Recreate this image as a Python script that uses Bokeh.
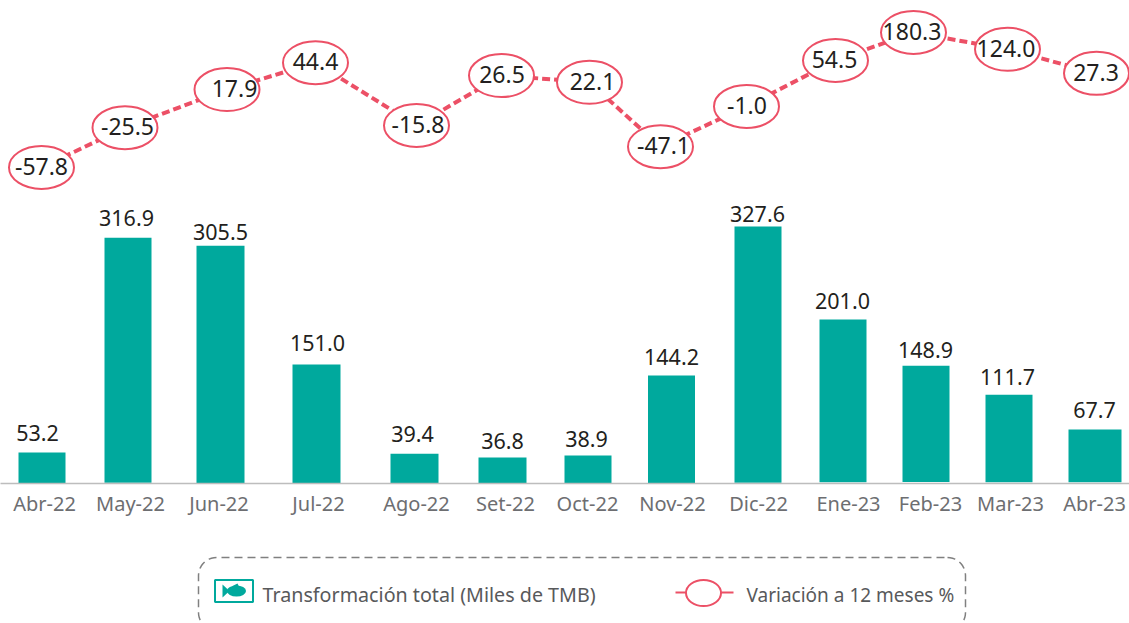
from bokeh.plotting import figure
from bokeh.layouts import column
from bokeh.models import FixedTicker, Range1d
from bokeh.core.properties import value
from bokeh.embed import file_html
from bokeh.resources import INLINE
import numpy as np

months = ["Abr-22","May-22","Jun-22","Jul-22","Ago-22","Set-22","Oct-22","Nov-22","Dic-22","Ene-23","Feb-23","Mar-23","Abr-23"]
tot_labels = ["53.2","316.9","305.5","151.0","39.4","36.8","38.9","144.2","327.6","201.0","148.9","111.7","67.7"]
var_labels = ["-57.8","-25.5","17.9","44.4","-15.8","26.5","22.1","-47.1","-1.0","54.5","180.3","124.0","27.3"]
# bar heights as drawn (thousand TMB)
bar_drawn = [39.5, 313, 303, 151.6, 38, 33, 35.7, 137.6, 327.4, 209, 150, 113, 68.8]
bar_base = [0, 1, 0, 0, 0, 0, 0, 0, 1, 1.5, 2, 1.5, 1.5]
bar_x = [41.5, 127.5, 220, 316, 414, 502, 587.5, 671, 757.5, 842.5, 925.5, 1008.5, 1094.5]
bar_w = [47, 47, 48, 48, 48, 48, 47, 47, 47, 47, 47, 47, 53]
tot_x = [37, 126, 220, 317, 412, 502, 586, 671, 757, 842, 925, 1007, 1094]
tot_gap = [19, 20, 14, 21, 20, 17, 16, 18, 12, 18, 16, 18, 19]
tick_x = [44, 130, 218.5, 318, 416, 505, 587, 672, 758, 848, 930, 1010, 1094]
# line levels as drawn (percent-like)
var_drawn = [-107, -36, 32, 80, -32, 57, 45, -70, 2, 84, 134, 104, 61]
var_x = [41, 124.5, 226.5, 315, 416, 501, 589, 660, 746, 835, 913, 1007, 1096]
var_label_x = [41, 127, 234, 315, 417.5, 501.5, 592, 663, 746.5, 834, 911.5, 1005.5, 1095.5]

FONT = "Noto Sans"
PINK = "#EC5066"
TEAL = "#00A99D"
KB = 0.785   # px per unit of bars
KV = 0.56    # px per unit of line
BASE = 483
ZERO = 107
H1 = 543

p = figure(width=1129, height=H1, output_backend="svg", toolbar_location=None,
           x_range=Range1d(0, 1129), y_range=Range1d(0, BASE / KB),
           min_border=0, min_border_bottom=H1 - BASE,
           outline_line_color=None, background_fill_color=None, border_fill_color=None)
p.grid.visible = False
p.yaxis.visible = False
p.extra_y_ranges["var"] = Range1d(-(BASE - ZERO) / KV, ZERO / KV)

p.vbar(x=bar_x, width=bar_w, top=bar_drawn, bottom=bar_base, fill_color=TEAL, line_color=None)
p.text(x=tot_x, y=bar_drawn, text=tot_labels, text_align="center", text_baseline="middle",
       y_offset=[-g for g in tot_gap], text_font=value(FONT), text_font_size="21.5px", text_color="#231F20")

p.line(var_x, var_drawn, y_range_name="var", line_color=PINK, line_width=4, line_dash="8 4")
p.ellipse(x=var_x, y=var_drawn, width=65, height=43, width_units="screen", height_units="screen",
          y_range_name="var", fill_color="white", line_color=PINK, line_width=2)
p.text(x=var_label_x, y=var_drawn, text=var_labels, y_range_name="var", text_align="center", text_baseline="middle",
       y_offset=-1, text_font=value(FONT), text_font_size="23px", text_color="#231F20")

ax = p.xaxis[0]
ax.ticker = FixedTicker(ticks=tick_x)
ax.major_label_overrides = {v: m for v, m in zip(tick_x, months)}
ax.major_tick_line_color = None
ax.minor_tick_line_color = None
ax.axis_line_color = "#BDBDBD"
ax.axis_line_width = 1.5
ax.major_label_text_font = FONT
ax.major_label_text_font_size = "20px"
ax.major_label_text_color = "#6D6E71"
ax.major_label_standoff = 0

# legend panel
H2 = 623 - H1
lg = figure(width=1129, height=H2, output_backend="svg", toolbar_location=None,
            x_range=Range1d(0, 1129), y_range=Range1d(623, H1),
            min_border=0, outline_line_color=None, background_fill_color=None, border_fill_color=None)
lg.grid.visible = False
lg.axis.visible = False
L, R, T, B, r = 198, 965, 557, 630, 18
th = np.linspace(0, np.pi / 2, 12)
xs = []; ys = []
for cx, cy, a0 in [(R - r, T + r, -np.pi / 2), (R - r, B - r, 0), (L + r, B - r, np.pi / 2), (L + r, T + r, np.pi)]:
    xs += list(cx + r * np.cos(a0 + th)); ys += list(cy + r * np.sin(a0 + th))
xs.append(xs[0]); ys.append(ys[0])
lg.line(xs, ys, line_color="#808080", line_width=1.5, line_dash="8 5")
lg.rect(x=[233.5], y=[590.5], width=38, height=22, fill_color="white", line_color=TEAL, line_width=2)
lg.ellipse([236], [590.5], width=19, height=11, fill_color=TEAL, line_color=None)
lg.patch([222, 229, 222], [584, 590.5, 597], fill_color=TEAL, line_color=None)
lg.patch([231, 237, 239], [586, 583, 587], fill_color=TEAL, line_color=None)
lg.segment([675, 720], [592, 592], [686, 733], [592, 592], line_color=PINK, line_width=2)
lg.ellipse([703], [592.5], width=35, height=26, fill_color="white", line_color=PINK, line_width=2)
lg.text(x=[262], y=[594], text=["Transformación  total (Miles de TMB)"], text_baseline="middle",
        text_font=value(FONT), text_font_size="19.7px", text_color="#58595B")
lg.text(x=[746], y=[594], text=["Variación a 12 meses %"], text_baseline="middle",
        text_font=value(FONT), text_font_size="19px", text_color="#58595B")

page = column(p, lg, spacing=0)
open("out.html", "w").write(file_html(page, INLINE))
